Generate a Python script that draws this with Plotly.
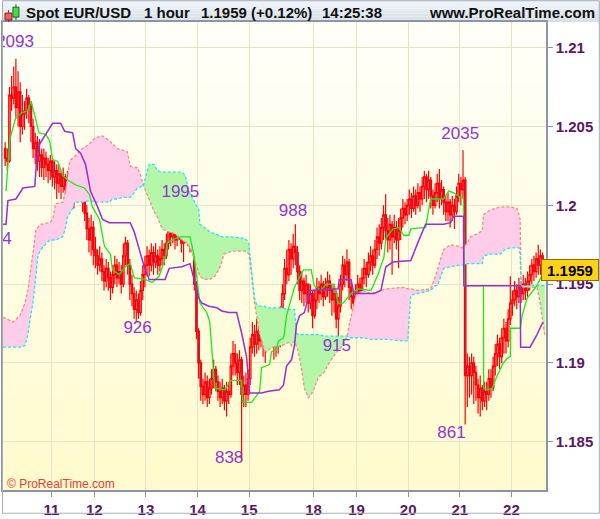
import plotly.graph_objects as go

# EUR/USD hourly bars, prices in 1/10000 (12036 -> 1.2036)
first_open = 12036
closes = [
    12030, 12028, 12070, 12068, 12075, 12062, 12072, 12050, 12058, 12060,
    12068, 12064, 12050, 12036, 12040, 12028, 12032, 12024, 12030, 12026,
    12022, 12028, 12018, 12022, 12014, 12020, 12012, 12018, 12010, 12016,
    12006, 12012, 12008, 12018, 12024, 12012, 12002, 11995, 11985, 11978,
    11986, 11972, 11968, 11962, 11966, 11958, 11952, 11960, 11954, 11948,
    11956, 11962, 11954, 11958, 11950, 11968, 11976, 11962, 11950, 11944,
    11934, 11940, 11932, 11946, 11956, 11962, 11968, 11962, 11970, 11964,
    11968, 11962, 11966, 11972, 11968, 11976, 11984, 11980, 11986, 11978,
    11984, 11988, 11976, 11982, 11988, 11980, 11986, 11978, 11950, 11920,
    11900, 11885, 11880, 11888, 11878, 11884, 11890, 11896, 11888, 11882,
    11878, 11884, 11876, 11882, 11880, 11898, 11906, 11900, 11894, 11902,
    11880, 11886, 11880, 11890, 11910, 11918, 11912, 11920, 11914, 11922,
    11916, 11912, 11920, 11926, 11918, 11912, 11920, 11914, 11930, 11944,
    11960, 11956, 11972, 11966, 11974, 11970, 11958, 11946, 11952, 11944,
    11950, 11938, 11944, 11930, 11940, 11948, 11944, 11950, 11942, 11948,
    11952, 11946, 11940, 11944, 11928, 11936, 11950, 11962, 11956, 11964,
    11948, 11942, 11938, 11944, 11950, 11946, 11954, 11960, 11956, 11964,
    11968, 11962, 11972, 11980, 11976, 11986, 11994, 11984, 11978, 11988,
    11980, 11986, 11978, 11984, 11992, 11998, 11994, 12000, 12004, 11998,
    12006, 12000, 12008, 12004, 12012, 12018, 12010, 12016, 12006, 12000,
    12008, 12014, 12004, 12010, 12002, 11996, 12002, 11994, 12000, 11996,
    12006, 12014, 12010, 12016, 11892, 11898, 11892, 11900, 11894, 11886,
    11878, 11884, 11876, 11882, 11880, 11890, 11884, 11898, 11906, 11912,
    11904, 11916, 11922, 11914, 11928, 11938, 11940, 11946, 11942, 11948,
    11944, 11950, 11946, 11952, 11956, 11962, 11958, 11966, 11962, 11968,
    11959]
highs = [
    12040, 12036, 12075, 12082, 12088, 12093, 12085, 12078, 12070, 12066,
    12074, 12070, 12066, 12055, 12046, 12044, 12042, 12036, 12036, 12034,
    12030, 12032, 12030, 12028, 12026, 12026, 12022, 12024, 12020, 12022,
    12018, 12018, 12016, 12022, 12030, 12026, 12016, 12008, 12000, 11992,
    11994, 11990, 11980, 11972, 11974, 11970, 11962, 11966, 11964, 11958,
    11962, 11968, 11966, 11964, 11962, 11976, 11980, 11978, 11966, 11956,
    11948, 11946, 11944, 11952, 11962, 11968, 11974, 11972, 11976, 11974,
    11976, 11972, 11974, 11978, 11976, 11982, 11990, 11988, 11990, 11988,
    11990, 11995, 11990, 11988, 11992, 11990, 11992, 11988, 11982, 11952,
    11922, 11902, 11890, 11894, 11892, 11890, 11896, 11902, 11898, 11892,
    11888, 11890, 11886, 11888, 11888, 11906, 11914, 11912, 11906, 11908,
    11904, 11892, 11894, 11896, 11916, 11926, 11924, 11928, 11924, 11928,
    11926, 11922, 11926, 11932, 11930, 11924, 11926, 11926, 11936, 11950,
    11966, 11972, 11978, 11976, 11982, 11988, 11974, 11962, 11958, 11954,
    11956, 11950, 11950, 11946, 11946, 11954, 11952, 11956, 11952, 11954,
    11958, 11956, 11950, 11950, 11946, 11942, 11956, 11968, 11966, 11972,
    11966, 11952, 11946, 11950, 11956, 11954, 11960, 11966, 11964, 11970,
    11974, 11972, 11978, 11986, 11988, 11992, 12000, 12007, 11992, 11994,
    11990, 11994, 11990, 11992, 11998, 12004, 12002, 12004, 12010, 12008,
    12012, 12010, 12014, 12012, 12018, 12022, 12020, 12022, 12018, 12010,
    12014, 12020, 12023, 12016, 12012, 12006, 12008, 12004, 12006, 12004,
    12012, 12020, 12018, 12035, 12018, 11906, 11904, 11906, 11904, 11898,
    11890, 11892, 11886, 11888, 11888, 11896, 11896, 11904, 11912, 11918,
    11916, 11922, 11928, 11926, 11934, 11955, 11946, 11952, 11950, 11954,
    11952, 11956, 11954, 11958, 11962, 11966, 11968, 11970, 11975, 11972,
    11970]
lows = [
    12025, 12022, 12027, 12060, 12064, 12055, 12050, 12040, 12045, 12048,
    12055, 12052, 12040, 12030, 12026, 12022, 12018, 12018, 12016, 12018,
    12014, 12016, 12012, 12010, 12004, 12008, 12004, 12008, 12000, 12002,
    11996, 12002, 11998, 12004, 12008, 12004, 11996, 11990, 11978, 11970,
    11968, 11962, 11960, 11956, 11958, 11952, 11946, 11948, 11946, 11940,
    11944, 11950, 11948, 11950, 11944, 11948, 11962, 11956, 11940, 11936,
    11928, 11926, 11928, 11930, 11940, 11948, 11955, 11955, 11958, 11956,
    11960, 11956, 11958, 11962, 11962, 11966, 11972, 11974, 11976, 11972,
    11974, 11978, 11970, 11964, 11976, 11974, 11970, 11970, 11946, 11915,
    11890, 11876, 11874, 11876, 11872, 11874, 11880, 11884, 11882, 11876,
    11872, 11874, 11870, 11866, 11874, 11878, 11892, 11892, 11886, 11886,
    11838, 11872, 11872, 11876, 11886, 11906, 11904, 11906, 11908, 11910,
    11904, 11900, 11908, 11912, 11910, 11902, 11904, 11906, 11910, 11926,
    11940, 11950, 11952, 11956, 11960, 11962, 11950, 11940, 11938, 11936,
    11938, 11932, 11934, 11922, 11928, 11934, 11938, 11940, 11936, 11940,
    11942, 11938, 11930, 11932, 11922, 11915, 11932, 11946, 11948, 11952,
    11940, 11934, 11924, 11932, 11940, 11938, 11942, 11950, 11948, 11954,
    11958, 11956, 11960, 11966, 11968, 11972, 11978, 11978, 11970, 11972,
    11956, 11976, 11972, 11960, 11978, 11986, 11988, 11990, 11994, 11992,
    11996, 11994, 11998, 11996, 12000, 12004, 12002, 12004, 11998, 11994,
    11998, 12002, 11998, 12000, 11994, 11990, 11990, 11986, 11990, 11985,
    11994, 12002, 12000, 12004, 11861, 11872, 11878, 11880, 11874, 11876,
    11868, 11866, 11870, 11872, 11870, 11876, 11878, 11882, 11892, 11898,
    11896, 11900, 11906, 11906, 11910, 11924, 11930, 11936, 11934, 11938,
    11938, 11940, 11940, 11942, 11946, 11950, 11952, 11954, 11956, 11956,
    11954]

# tenkan (green) and kijun (purple) lines: bar position, price
tenkan_x = [0.4, 2.2, 5, 8.3, 10.6, 12, 13.8, 15.7, 18.9, 20.7, 22.1, 24.4, 26.8, 29.1, 32.8,
            36.9, 39.2, 40.6, 43.9, 46.2, 49, 49.9, 53.1, 55.9, 58.2, 60.1, 65.2, 68.4, 71.6,
            74.4, 75.3, 77.6, 81.3, 86, 87.8, 90.6, 93.8, 95.2, 97.5, 102.2, 104.5, 105.4, 110,
            110.5, 114.7, 118.4, 119.3, 123, 123.9, 126.2, 127.2, 129.5, 129.9, 130.9, 134.6,
            138.7, 142.4, 143.8, 147, 149.4, 153, 154.9, 157.2, 160.9, 164.2, 170.2, 173.4,
            176.2, 177.1, 180.4, 183.1, 185.4, 187.8, 188.7, 195.6, 196.5, 197.9, 204, 206.3,
            208.6, 211.8, 213.2, 213.7, 222.5, 222.6, 224.3, 226.6, 228.9, 231.7, 233.6, 235,
            235.1, 239.6, 240.5, 242.8, 247.4, 250.2]
tenkan = [12009, 12042, 12056, 12059, 12060, 12066, 12057, 12046, 12045, 12041, 12029, 12028,
          12019, 12016, 12013, 12011, 12007, 11999, 11991, 11974, 11969, 11959, 11956, 11961,
          11963, 11954, 11953, 11951, 11955, 11966, 11976, 11978, 11980, 11980, 11969, 11938,
          11932, 11926, 11884, 11883, 11888, 11889, 11889, 11875, 11875, 11882, 11897, 11899,
          11907, 11909, 11914, 11916, 11919, 11930, 11948, 11959, 11959, 11949, 11946, 11950,
          11950, 11938, 11938, 11944, 11947, 11946, 11956, 11967, 11979, 11985, 11986, 11981,
          11981, 11985, 11986, 11994, 12004, 12004, 12009, 12008, 12005, 12005, 11949, 11949,
          11884, 11883, 11884, 11892, 11900, 11903, 11904, 11922, 11922, 11930, 11941, 11949,
          11957]
kijun_x = [-1, 0.4, 1.3, 5, 8.3, 13.8, 14.7, 16.1, 22.1, 25.8, 27.7, 31.4, 32.8, 35.1, 37.4,
           39.7, 43, 45.3, 48.5, 58.2, 60.1, 62.4, 64.7, 67, 74.4, 76.3, 82.3, 86, 87.8, 90.1,
           91.5, 94.8, 98.5, 100.8, 104, 107.7, 110, 112.3, 113.7, 119.3, 122.5, 127.6, 129.5,
           130.9, 133.2, 134.6, 135.5, 136.9, 139.2, 141, 141.5, 154.9, 155.4, 160.9, 162.3,
           171.6, 174.8, 177.1, 180.4, 188.7, 191.9, 195.6, 204, 207.2, 208.6, 213.2, 213.4,
           239.6, 239.8, 244.2, 247.4, 250.2]
kijun = [11988, 11988, 12003, 12004, 12011, 12012, 12030, 12039, 12052, 12052, 12047, 12046,
         12036, 12033, 12026, 12009, 11999, 11991, 11989, 11989, 11983, 11972, 11961, 11953,
         11953, 11960, 11961, 11963, 11953, 11941, 11938, 11936, 11935, 11933, 11932, 11932,
         11919, 11904, 11881, 11881, 11882, 11883, 11886, 11898, 11902, 11911, 11924, 11930,
         11932, 11941, 11946, 11947, 11953, 11953, 11944, 11944, 11946, 11961, 11964, 11965,
         11976, 11988, 11988, 11989, 11993, 11993, 11949, 11949, 11910, 11910, 11918, 11926]

# ichimoku cloud (senkou spans)
cloud_x = [-1, 3.6, 6.9, 9.2, 10.6, 11.5, 12.9, 14.3, 15.2, 16.6, 20.7, 22.1, 23.5, 26.8, 28.1,
           29.1, 30, 31.4, 32.3, 36, 39.2, 42, 45.3, 48.5, 49.9, 52.2, 54.5, 56.8, 58.2, 60.1,
           61.5, 63.3, 64.2, 65.6, 67, 69.3, 70.7, 73, 76.3, 79, 82.3, 83.7, 84.6, 85.5, 86.9,
           87.8, 90.1, 90.6, 92.5, 93.8, 95.2, 97.5, 99.4, 100.8, 101.7, 105.4, 111.4, 112.3,
           113.3, 113.7, 114.7, 115.6, 116, 117, 118.4, 120.7, 121.6, 123.9, 128.5, 131.8,
           133.2, 134.6, 135.5, 136.4, 137.8, 139.2, 141, 142.4, 143.8, 145.7, 148.4, 150.3,
           153.1, 154.9, 157.2, 159.1, 160, 160.9, 163.2, 166.5, 170.2, 177.1, 185.4, 187.3,
           187.8, 188.7, 191.9, 197.9, 200.2, 201.2, 202.6, 204, 207.2, 210.9, 212.7, 215.1,
           216.4, 219.7, 222, 222.5, 225.7, 230.3, 232.6, 235, 238.2, 239.1, 239.6, 240, 241,
           247.4, 248.8, 251.1]
span_red = [11929, 11926, 11930, 11938, 11946, 11955, 11969, 11984, 11986, 11988, 11989, 11991,
            12001, 12002, 12009, 12018, 12028, 12030, 12031, 12036, 12039, 12043, 12044, 12041,
            12039, 12036, 12035, 12034, 12025, 12024, 12024, 12018, 12013, 12008, 12003, 11996,
            11993, 11985, 11983, 11982, 11978, 11977, 11976, 11974, 11971, 11966, 11957, 11955,
            11953, 11953, 11953, 11955, 11959, 11964, 11969, 11971, 11971, 11971, 11969, 11966,
            11955, 11943, 11938, 11930, 11918, 11908, 11907, 11910, 11911, 11913, 11911, 11914,
            11911, 11907, 11897, 11884, 11878, 11880, 11884, 11891, 11894, 11899, 11905, 11908,
            11911, 11917, 11924, 11930, 11943, 11946, 11944, 11947, 11948, 11947, 11947, 11947,
            11946, 11947, 11955, 11959, 11966, 11972, 11975, 11974, 11973, 11976, 11980, 11982,
            11984, 11994, 11997, 11999, 11999, 11999, 11998, 11994, 11991, 11949, 11948, 11948,
            11939, 11917]
span_cyan = [11910, 11910, 11910, 11911, 11918, 11927, 11938, 11955, 11968, 11972, 11978, 11978,
             11978, 11980, 11986, 11993, 11995, 11998, 12002, 12002, 12003, 12002, 12002, 12002,
             12004, 12004, 12005, 12005, 12005, 12008, 12011, 12012, 12012, 12019, 12026, 12026,
             12022, 12021, 12021, 12021, 12021, 12019, 12014, 12009, 12005, 12003, 11997, 11988,
             11986, 11985, 11983, 11982, 11981, 11980, 11980, 11980, 11979, 11978, 11976, 11971,
             11960, 11946, 11941, 11937, 11936, 11936, 11935, 11935, 11935, 11934, 11934, 11934,
             11919, 11918, 11918, 11918, 11918, 11918, 11918, 11918, 11917, 11917, 11917, 11917,
             11917, 11917, 11916, 11916, 11916, 11916, 11915, 11915, 11914, 11914, 11926, 11943,
             11944, 11946, 11949, 11949, 11955, 11960, 11961, 11962, 11962, 11963, 11963, 11963,
             11963, 11968, 11969, 11969, 11972, 11973, 11973, 11973, 11968, 11949, 11949, 11949,
             11949, 11949]

# swing labels: text, bar position, price
swing_text = ['2093', '4', '1995', '926', '838', '988', '915', '2035', '861']
swing_x = [4.6, 0.8, 81.5, 61.6, 104.2, 133.9, 154.3, 211.7, 207.6]
swing_y = [12103, 11978, 12008, 11922, 11839, 11996, 11910, 12045, 11855]

day_pos = [21.5, 41.5, 65.5, 89.5, 113.5, 143.5, 163.5, 187.5, 211.5, 235.5]
day_labels = ['11', '12', '13', '14', '15', '18', '19', '20', '21', '22']
price_ticks = [1.185, 1.19, 1.195, 1.2, 1.205, 1.21]
price_labels = ['1.185', '1.19', '1.195', '1.2', '1.205', '1.21']
last_price = 1.1959


def p(vals):
    return [v / 10000.0 for v in vals]


def cloud_pieces(xs, up, dn):
    # split the cloud where the two spans cross
    pieces = []
    cx, cu, cd = [xs[0]], [up[0]], [dn[0]]
    sign = up[0] >= dn[0]
    for k in range(1, len(xs)):
        s = up[k] >= dn[k]
        if s != sign:
            d0 = up[k - 1] - dn[k - 1]
            d1 = up[k] - dn[k]
            t = d0 / (d0 - d1)
            xc = xs[k - 1] + t * (xs[k] - xs[k - 1])
            yc = up[k - 1] + t * (up[k] - up[k - 1])
            cx.append(xc); cu.append(yc); cd.append(yc)
            pieces.append((sign, cx, cu, cd))
            cx, cu, cd = [xc], [yc], [yc]
            sign = s
        cx.append(xs[k]); cu.append(up[k]); cd.append(dn[k])
    pieces.append((sign, cx, cu, cd))
    return pieces


L, R, T, B = 1, 54, 22, 24
W, H = 600, 519
PW, PH = W - L - R, H - T - B


def px_x(px):
    return (px - L) / PW


def px_y(py):
    return (H - B - py) / PH


opens = [first_open] + closes[:-1]
bars = list(range(len(closes)))

fig = go.Figure()

for is_red, cx, cu, cd in cloud_pieces(cloud_x, p(span_red), p(span_cyan)):
    fig.add_trace(go.Scatter(
        x=cx + cx[::-1], y=cu + cd[::-1], fill='toself', mode='lines',
        line=dict(width=0), fillcolor='#ffcdea' if is_red else '#b4f7a8',
        hoverinfo='skip'))

fig.add_trace(go.Scatter(x=cloud_x, y=p(span_red), mode='lines',
                         line=dict(color='#f58a84', width=1.3, dash='3px,2px')))
fig.add_trace(go.Scatter(x=cloud_x, y=p(span_cyan), mode='lines',
                         line=dict(color='#22e4f0', width=1.3, dash='3px,2px')))

fig.add_trace(go.Candlestick(
    x=bars, open=p(opens), high=p(highs), low=p(lows), close=p(closes),
    increasing=dict(line=dict(color='#ff0000', width=1.2), fillcolor='rgba(255,255,255,0)'),
    decreasing=dict(line=dict(color='#ff0000', width=1.2), fillcolor='#5b3fc4'),
    whiskerwidth=0, hoverinfo='skip'))

fig.add_trace(go.Scatter(x=tenkan_x, y=p(tenkan), mode='lines',
                         line=dict(color='#1ee81e', width=1.3)))
fig.add_trace(go.Scatter(x=kijun_x, y=p(kijun), mode='lines',
                         line=dict(color='#9a2ecf', width=1.5)))

fig.add_trace(go.Scatter(x=swing_x, y=p(swing_y), mode='text', text=swing_text,
                         textfont=dict(family='Liberation Sans', size=17, color='#8f35d2'),
                         cliponaxis=True, hoverinfo='skip'))

shapes = []
# plot background gradient
n = 30
for k in range(n):
    f = k / (n - 1)
    g = round(251 + 4 * f)
    b = round(206 + 42 * f)
    shapes.append(dict(type='rect', xref='paper', yref='paper', x0=0, x1=1,
                       y0=k / n, y1=(k + 1) / n, fillcolor=f'rgb(255,{g},{b})',
                       line=dict(width=0), layer='below'))
# header bar
hn = 8
for k in range(hn):
    f = k / (hn - 1)
    c = (round(214 + 26 * f), round(223 + 21 * f), round(231 + 17 * f))
    shapes.append(dict(type='rect', xref='paper', yref='paper',
                       x0=px_x(0), x1=px_x(600),
                       y0=px_y(22 - 22 * k / hn), y1=px_y(22 - 22 * (k + 1) / hn),
                       fillcolor=f'rgb{c}', line=dict(width=0), layer='below'))
# small candle icon in the header
shapes += [
    dict(type='line', xref='paper', yref='paper', x0=px_x(6.5), x1=px_x(6.5),
         y0=px_y(10), y1=px_y(22), line=dict(color='#803030', width=1)),
    dict(type='rect', xref='paper', yref='paper', x0=px_x(3), x1=px_x(10),
         y0=px_y(13), y1=px_y(20), fillcolor='#ff5a5a', line=dict(color='#7a2020', width=1)),
    dict(type='line', xref='paper', yref='paper', x0=px_x(14), x1=px_x(14),
         y0=px_y(4), y1=px_y(20), line=dict(color='#206020', width=1)),
    dict(type='rect', xref='paper', yref='paper', x0=px_x(11), x1=px_x(17),
         y0=px_y(7), y1=px_y(17), fillcolor='#44dd44', line=dict(color='#1d6a1d', width=1)),
]
# outer frame
shapes.append(dict(type='rect', xref='paper', yref='paper', x0=px_x(0.5), x1=px_x(599.5),
                   y0=px_y(518.5), y1=px_y(0.5), line=dict(color='#a4adb6', width=1),
                   fillcolor='rgba(0,0,0,0)', layer='above'))

head_font = dict(family='Liberation Sans', size=15, color='#111111', weight='bold')
annotations = [
    dict(text='Spot EUR/USD', x=px_x(22), xanchor='left'),
    dict(text='1 hour', x=px_x(141), xanchor='left'),
    dict(text='1.1959 (+0.12%)', x=px_x(198), xanchor='left'),
    dict(text='14:25:38', x=px_x(319), xanchor='left'),
    dict(text='www.ProRealTime.com', x=px_x(597), xanchor='right'),
]
for a in annotations:
    a.update(xref='paper', yref='paper', y=px_y(12), yanchor='middle',
             showarrow=False, font=head_font)
annotations.append(dict(text='© ProRealTime.com', xref='paper', yref='paper',
                        x=px_x(3), y=px_y(489), xanchor='left', yanchor='middle',
                        showarrow=False,
                        font=dict(family='Liberation Sans', size=12, color='#e8403a')))
annotations.append(dict(text=f'{last_price:.4f}', xref='paper', yref='y',
                        x=px_x(541), y=last_price, xanchor='left', yanchor='middle',
                        showarrow=False, bgcolor='#ffd21a', bordercolor='#8a6d10',
                        borderwidth=1, borderpad=1, width=54, height=18,
                        font=dict(family='Liberation Sans', size=15, color='#000000',
                                  weight='bold')))

axis_font = dict(family='Liberation Sans', size=15, color='#5a1662', weight='bold')
fig.update_layout(
    width=W, height=H,
    margin=dict(l=L, r=R, t=T, b=B),
    paper_bgcolor='white',
    plot_bgcolor='#fffde6',
    showlegend=False,
    hovermode=False,
    boxgap=0,
    shapes=shapes,
    annotations=annotations,
    xaxis=dict(range=[-1, 251.6], tickvals=day_pos, ticktext=day_labels,
               tickfont=axis_font, ticks='outside', ticklen=5, tickcolor='#8a96a3',
               showgrid=True, gridcolor='#e6e3c6', gridwidth=1, zeroline=False,
               showline=True, linecolor='#8a96a3', linewidth=1.5, mirror=True,
               rangeslider=dict(visible=False), fixedrange=True),
    yaxis=dict(range=[1.18194, 1.21163], side='right', tickvals=price_ticks,
               ticktext=price_labels, tickfont=axis_font, ticks='outside', ticklen=5,
               tickcolor='#8a96a3', showgrid=True, gridcolor='#e6e3c6', gridwidth=1,
               zeroline=False, showline=True, linecolor='#8a96a3', linewidth=1.5,
               mirror=True, fixedrange=True),
)

fig.write_html("out.html", config={'displayModeBar': False},
               post_script="document.body.style.margin='0px';")
